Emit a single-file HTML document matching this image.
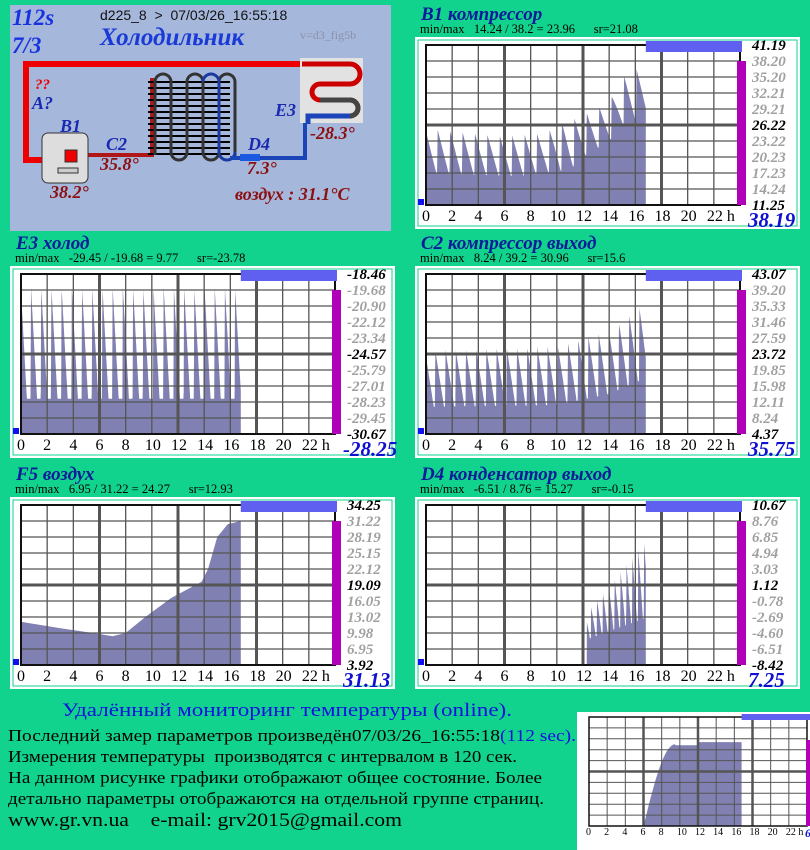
<!DOCTYPE html>
<html><head><meta charset="utf-8">
<style>
body{margin:0;width:810px;height:850px;background:#12d38d;overflow:hidden;font-family:"Liberation Serif",serif;}
svg{position:absolute;left:0;top:0}
text{white-space:pre}
</style></head><body>
<svg id="s" width="810" height="850" xmlns="http://www.w3.org/2000/svg" font-family="Liberation Serif, serif" xml:space="preserve">
<rect x="10" y="5" width="381" height="226" fill="#a6b7dc"/>
<text x="12" y="25" font-size="23" font-weight="bold" font-style="italic" fill="#1733e0">112s</text>
<text x="12" y="53" font-size="23" font-weight="bold" font-style="italic" fill="#1733e0">7/3</text>
<text x="100" y="20" font-size="14" font-family="Liberation Sans, sans-serif" fill="#111">d225_8  &gt;  07/03/26_16:55:18</text>
<text x="100" y="45" font-size="25" font-weight="bold" font-style="italic" fill="#1a3ad8">Холодильник</text>
<text x="300" y="39" font-size="12" fill="#8a90a8">v=d3_fig5b</text>
<path d="M300,64 H26 V160 H45" fill="none" stroke="#e00" stroke-width="6"/>
<path d="M75,155 H152 V78" fill="none" stroke="#b01818" stroke-width="4"/>
<g stroke="#000" stroke-width="2">
<path d="M148,82H230M148,88H230M148,94H230M148,100H230M148,106H230M148,112H230M148,118H230M148,124H230M148,130H230M148,136H230M148,142H230M148,148H230M148,154H230"/>
</g>
<path d="M155,155 V82 a8,8 0 0 1 16,0 V152 a8,8 0 0 0 16,0 V82 a8,8 0 0 1 16,0 V152 a8,8 0 0 0 16,0 V82 a8,8 0 0 1 16,0 V158" fill="none" stroke="#333" stroke-width="3"/>
<path d="M203,82 a8,8 0 0 1 16,0 V152 a8,8 0 0 0 16,0" fill="none" stroke="#1a3aa0" stroke-width="3"/>
<path d="M230,158 H305 V118" fill="none" stroke="#1a44b8" stroke-width="4"/>
<rect x="240" y="154" width="20" height="7" fill="#1a5ae0"/>
<rect x="300" y="58" width="63" height="65" fill="#e2e2e2"/>
<path d="M302,64 H350 a10,10 0 0 1 0,20 H320 a8,8 0 0 0 0,16 H350 a8,8 0 0 1 0,16 H308 V122" fill="none" stroke="#c00" stroke-width="5"/>
<path d="M320,100 H350 a8,8 0 0 1 0,16" fill="none" stroke="#444" stroke-width="5"/>
<path d="M350,116 H308 V124" fill="none" stroke="#1a44b8" stroke-width="5"/>
<rect x="42" y="133" width="46" height="50" rx="6" fill="#ddd" stroke="#333"/>
<rect x="65" y="150" width="12" height="12" fill="#e00" stroke="#333"/>
<rect x="58" y="168" width="20" height="5" fill="#ccc" stroke="#333"/>
<text x="35" y="89" font-size="15" font-weight="bold" font-style="italic" fill="#e00">??</text>
<text x="32" y="109" font-size="18" font-weight="bold" font-style="italic" fill="#1a2ab0">A?</text>
<text x="60" y="132" font-size="18" font-weight="bold" font-style="italic" fill="#1a2ab0">B1</text>
<text x="106" y="150" font-size="18" font-weight="bold" font-style="italic" fill="#1a2ab0">C2</text>
<text x="100" y="170" font-size="18" font-weight="bold" font-style="italic" fill="#8b1010">35.8°</text>
<text x="50" y="198" font-size="18" font-weight="bold" font-style="italic" fill="#8b1010">38.2°</text>
<text x="248" y="150" font-size="18" font-weight="bold" font-style="italic" fill="#1a2ab0">D4</text>
<text x="247" y="174" font-size="18" font-weight="bold" font-style="italic" fill="#8b1010">7.3°</text>
<text x="275" y="116" font-size="18" font-weight="bold" font-style="italic" fill="#1a2ab0">E3</text>
<text x="310" y="139" font-size="18" font-weight="bold" font-style="italic" fill="#8b1010">-28.3°</text>
<text x="235" y="200" font-size="18" font-weight="bold" font-style="italic" fill="#8b1010">воздух : 31.1°C</text>
<g id="charts"></g>
<text x="62" y="716" font-size="19" fill="#1010e0" textLength="450" lengthAdjust="spacingAndGlyphs">Удалённый мониторинг температуры (online).</text>
<g font-size="17" fill="#000">
<text x="8" y="741" textLength="568" lengthAdjust="spacingAndGlyphs">Последний замер параметров произведён07/03/26_16:55:18<tspan fill="#1010e0">(112 sec).</tspan></text>
<text x="8" y="762" textLength="509" lengthAdjust="spacingAndGlyphs">Измерения температуры  производятся с интервалом в 120 сек.</text>
<text x="8" y="783" textLength="534" lengthAdjust="spacingAndGlyphs">На данном рисунке графики отображают общее состояние. Более</text>
<text x="8" y="804" textLength="536" lengthAdjust="spacingAndGlyphs">детально параметры отображаются на отдельной группе страниц.</text>
<text x="8" y="826" font-size="19" textLength="394" lengthAdjust="spacingAndGlyphs">www.gr.vn.ua    e-mail: grv2015@gmail.com</text>
</g>
</svg>
<script>
var g=document.getElementById('charts'),h='';
function chart(bx,by,title,mm,labels,big,f){
 var px=bx+11,py=by+8,W=314,H=160;
 h+='<text x="'+(bx+6)+'" y="'+(by-17)+'" font-size="19" font-weight="bold" font-style="italic" fill="#0a1a9a">'+title+'</text>';
 h+='<text x="'+(bx+5)+'" y="'+(by-4)+'" font-size="12.5" fill="#000">'+mm+'</text>';
 h+='<rect x="'+(bx+1)+'" y="'+(by+1)+'" width="383" height="190" fill="#fff" stroke="#fff" stroke-width="2"/>';
 h+='<rect x="'+(bx+3)+'" y="'+(by+3)+'" width="379" height="186" fill="#fff" stroke="#12d38d" stroke-width="1"/>';
 var pts=[px+','+(py+H)],n=900;
 for(var i=0;i<=n;i++){var t=16.8*i/n;var v=f(t);pts.push((px+t*W/24).toFixed(1)+','+(py+H-v*H).toFixed(1));}
 pts.push((px+16.8*W/24).toFixed(1)+','+(py+H));
 h+='<polygon points="'+pts.join(' ')+'" fill="#8080b2"/>';
 for(var k=1;k<12;k++){var x=px+k*W/12;h+='<line x1="'+x+'" y1="'+py+'" x2="'+x+'" y2="'+(py+H)+'" stroke="#555" stroke-width="'+(k%3==0?3:1.3)+'"/>';}
 for(var k=1;k<10;k++){var y=py+k*H/10;h+='<line x1="'+px+'" y1="'+y+'" x2="'+(px+W)+'" y2="'+y+'" stroke="#555" stroke-width="'+(k==5?3:1.3)+'"/>';}
 h+='<rect x="'+px+'" y="'+py+'" width="'+W+'" height="'+H+'" fill="none" stroke="#111" stroke-width="2"/>';
 h+='<rect x="'+(px+16.8*W/24)+'" y="'+(by+4)+'" width="'+(W-16.8*W/24+2)+'" height="11" fill="#6060f0"/>';
 h+='<rect x="'+(px+W-3)+'" y="'+(py+16)+'" width="9" height="'+(H-16)+'" fill="#b000b8"/>';
 h+='<rect x="'+(bx+3)+'" y="'+(by+162)+'" width="6" height="6" fill="#1010f0"/>';
 for(var k=0;k<=10;k++){var b=(k==0||k==5||k==10);h+='<text x="'+(bx+337)+'" y="'+(py+k*H/10+5)+'" font-size="15" font-weight="bold" font-style="italic" fill="'+(b?'#000':'#a0a0a0')+'">'+labels[k]+'</text>';}
 for(var k=0;k<12;k++){h+='<text x="'+(px+k*W/12-(k>=5?7:4))+'" y="'+(by+184)+'" font-size="16" fill="#000">'+(k*2)+(k==11?' h':'')+'</text>';}
 h+='<text x="'+(bx+333)+'" y="'+(by+190)+'" font-size="21" font-weight="bold" font-style="italic" fill="#1010d0">'+big+'</text>';
}
function saw(t,p,ph){return ((t+ph)/p)%1;}
function interp(t,P){for(var i=1;i<P.length;i++){if(t<=P[i][0]){var a=P[i-1],b=P[i];return a[1]+(b[1]-a[1])*(t-a[0])/(b[0]-a[0]);}}return P[P.length-1][1];}
function tooth(x,pk,base,frac){if(x<0.04)return base+(pk-base)*x/0.04;var d=(x-0.04)/frac;return d>=1?base:pk-(pk-base)*d;}
chart(415,37,'B1 компрессор','min/max   14.24 / 38.2 = 23.96      sr=21.08',['41.19','38.20','35.20','32.21','29.21','26.22','23.22','20.23','17.23','14.24','11.25'],'38.19',
 function(t){var x=saw(t,0.95,0.1);var pk=interp(t,[[0,0.48],[6,0.43],[9,0.45],[10.5,0.52],[11.5,0.55],[13,0.6],[14,0.65],[15,0.8],[16.8,0.88]]);var base=interp(t,[[0,0.2],[7,0.18],[11,0.22],[12,0.3],[14,0.4],[15,0.5],[16.8,0.55]]);return tooth(x,pk,base,0.9);});
chart(10,266,'E3 холод','min/max   -29.45 / -19.68 = 9.77      sr=-23.78',['-18.46','-19.68','-20.90','-22.12','-23.34','-24.57','-25.79','-27.01','-28.23','-29.45','-30.67'],'-28.25',
 function(t){var x=saw(t,0.78,0.05);return tooth(x,0.92,0.22,0.6);});
chart(415,266,'C2 компрессор выход','min/max   8.24 / 39.2 = 30.96      sr=15.6',['43.07','39.20','35.33','31.46','27.59','23.72','19.85','15.98','12.11','8.24','4.37'],'35.75',
 function(t){var x=saw(t,0.78,0.1);var pk=interp(t,[[0,0.52],[10,0.55],[14,0.65],[16.8,0.82]]);var base=interp(t,[[0,0.17],[10,0.18],[14,0.25],[16.8,0.35]]);return tooth(x,pk,base,0.85);});
chart(10,497,'F5 воздух','min/max   6.95 / 31.22 = 24.27      sr=12.93',['34.25','31.22','28.19','25.15','22.12','19.09','16.05','13.02','9.98','6.95','3.92'],'31.13',
 function(t){return interp(t,[[0,0.27],[3,0.23],[5.5,0.2],[7,0.18],[8,0.2],[9.5,0.3],[11.5,0.42],[13.8,0.52],[14.3,0.6],[15,0.8],[15.8,0.88],[16.8,0.9]]);});
chart(415,497,'D4 конденсатор выход','min/max   -6.51 / 8.76 = 15.27      sr=-0.15',['10.67','8.76','6.85','4.94','3.03','1.12','-0.78','-2.69','-4.60','-6.51','-8.42'],'7.25',
 function(t){if(t<12.3)return 0;var x=saw(t,0.45,0);var pk=0.3+(t-12)*0.1;var base=0.15+(t-12)*0.03;return tooth(x,pk,base,0.8);});
(function(){var bx=577,by=712,px=589,py=717,W=218,H=109;
 h+='<rect x="'+bx+'" y="'+by+'" width="235" height="140" fill="#fff"/>';
 var pts=[px+','+(py+H)];
 for(var i=0;i<=100;i++){var t=16.8*i/100,v;if(t<6)v=0;else if(t<9.5)v=0.75*Math.sin((t-6)/3.5*Math.PI/2);else if(t<12)v=0.74;else v=0.77;pts.push((px+t*W/24).toFixed(1)+','+(py+H-v*H).toFixed(1));}
 pts.push((px+16.8*W/24)+','+(py+H));
 h+='<polygon points="'+pts.join(' ')+'" fill="#8080b2"/>';
 for(var k=1;k<12;k++){var x=px+k*W/12;h+='<line x1="'+x+'" y1="'+py+'" x2="'+x+'" y2="'+(py+H)+'" stroke="#555" stroke-width="'+(k%3==0?2.5:1)+'"/>';}
 for(var k=1;k<10;k++){var y=py+k*H/10;h+='<line x1="'+px+'" y1="'+y+'" x2="'+(px+W)+'" y2="'+y+'" stroke="#555" stroke-width="'+(k==5?2.5:1)+'"/>';}
 h+='<rect x="'+px+'" y="'+py+'" width="'+W+'" height="'+H+'" fill="none" stroke="#111" stroke-width="1.5"/>';
 h+='<rect x="'+(px+16.8*W/24)+'" y="714" width="'+(W-16.8*W/24+5)+'" height="6" fill="#6060f0"/>';
 h+='<rect x="806" y="740" width="4" height="86" fill="#b000b8"/>';
 for(var k=0;k<12;k++){h+='<text x="'+(px+k*W/12-3)+'" y="835" font-size="10" fill="#000">'+(k*2)+(k==11?' h':'')+'</text>';}
 h+='<text x="805" y="837" font-size="12" font-weight="bold" font-style="italic" fill="#1010d0">6</text>';
})();
g.innerHTML=h;
</script>
</body></html>
